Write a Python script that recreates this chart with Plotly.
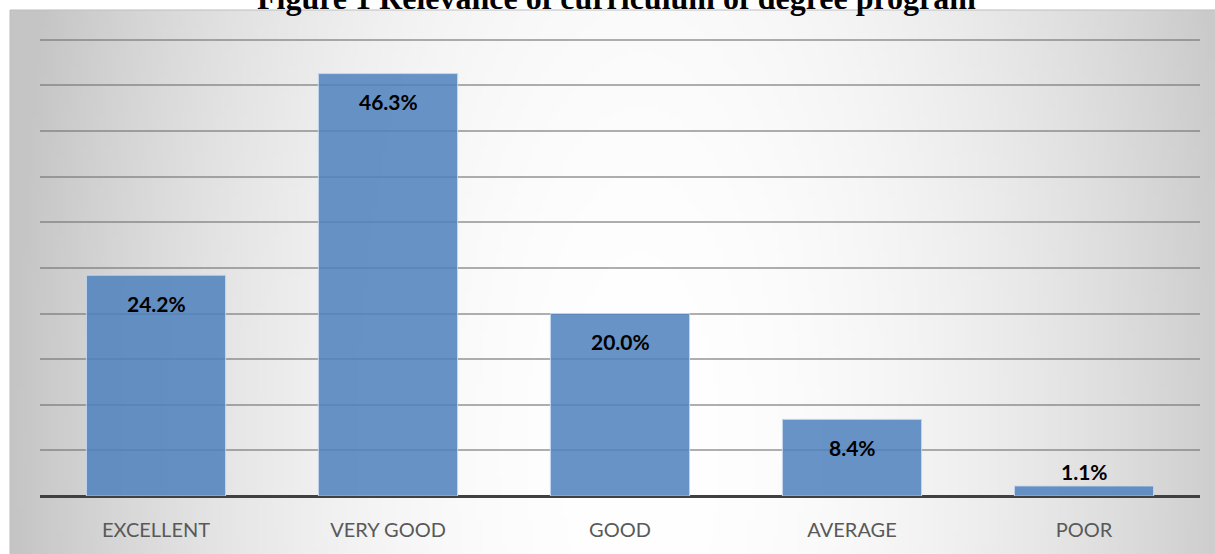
import base64
import struct
import zlib

import numpy as np
import plotly.graph_objects as go

# ---- data ----
categories = ["EXCELLENT", "VERY GOOD", "GOOD", "AVERAGE", "POOR"]
values = [24.2, 46.3, 20.0, 8.4, 1.1]
title_text = "Figure 1 Relevance of curriculum of degree program"

W, H = 1215, 554
ML, MR, MT, MB = 40, 15, 38, 58
YMAX = 50.2


def png_data_uri(arr):
    h, w = arr.shape
    raw = b"".join(b"\x00" + arr[i].astype(np.uint8).tobytes() for i in range(h))

    def chunk(tag, data):
        c = tag + data
        return struct.pack(">I", len(data)) + c + struct.pack(">I", zlib.crc32(c) & 0xFFFFFFFF)

    png = b"\x89PNG\r\n\x1a\n"
    png += chunk(b"IHDR", struct.pack(">IIBBBBB", w, h, 8, 0, 0, 0, 0))
    png += chunk(b"IDAT", zlib.compress(raw, 9))
    png += chunk(b"IEND", b"")
    return "data:image/png;base64," + base64.b64encode(png).decode()


# radial gray background of the chart area (pixel box)
bx0, by0, bx1, by1 = 10, 10, W, H
gw, gh = 241, 109
xs = np.linspace(bx0, bx1, gw)
ys = np.linspace(by0, by1, gh)
X, Y = np.meshgrid(xs, ys)
r2 = ((X - 640) / 620) ** 2 + ((Y - 450) / 1500) ** 2
grad = np.clip(255 - 56 * r2, 197, 255)
bg_uri = png_data_uri(grad)

pw = W - ML - MR
ph = H - MT - MB


def px_to_paper_x(px):
    return (px - ML) / pw


def px_to_paper_y(py):
    return (H - MB - py) / ph


fig = go.Figure()
fig.add_trace(
    go.Bar(
        x=categories,
        y=values,
        marker=dict(color="rgba(79,129,189,0.86)", line=dict(color="rgba(200,220,242,0.9)", width=1)),
        width=0.6,
        hoverinfo="skip",
    )
)

# data labels: inside end, except tiny bar (outside)
for c, v in zip(categories, values):
    inside = v > 5
    fig.add_annotation(
        x=c, y=v, xref="x", yref="y",
        text=f"<b>{v:.1f}%</b>",
        showarrow=False,
        yanchor="middle",
        yshift=-28 if inside else 14,
        font=dict(family="Lato", size=21, color="#000000"),
    )

# title (clipped at the top of the page)
fig.add_annotation(
    x=px_to_paper_x(616), y=1, xref="paper", yref="paper",
    xanchor="center", yanchor="bottom", yshift=MT - 18,
    text="<b>" + title_text + "</b>",
    showarrow=False,
    font=dict(family="Liberation Serif", size=32, color="#000000"),
)

fig.add_layout_image(
    dict(
        source=bg_uri,
        xref="paper", yref="paper",
        x=px_to_paper_x(bx0), y=px_to_paper_y(by0),
        sizex=px_to_paper_x(bx1) - px_to_paper_x(bx0),
        sizey=px_to_paper_y(by0) - px_to_paper_y(by1),
        xanchor="left", yanchor="top",
        sizing="stretch", layer="below",
    )
)

fig.add_shape(
    type="rect", xref="paper", yref="paper",
    x0=px_to_paper_x(bx0), x1=px_to_paper_x(bx1 + 5),
    y0=px_to_paper_y(by1 + 5), y1=px_to_paper_y(by0),
    line=dict(color="#bdbdbd", width=1), fillcolor="rgba(0,0,0,0)", layer="below",
)

fig.update_layout(
    width=W, height=H,
    margin=dict(l=ML, r=MR, t=MT, b=MB, pad=0),
    paper_bgcolor="#ffffff",
    plot_bgcolor="rgba(0,0,0,0)",
    showlegend=False,
    bargap=0.4,
    xaxis=dict(
        showgrid=False, zeroline=False,
        showline=False,
        ticks="", ticklabelstandoff=20,
        tickfont=dict(family="Lato", size=20, color="#595959"),
        fixedrange=True,
    ),
    yaxis=dict(
        range=[0, YMAX], tick0=0, dtick=5,
        showgrid=True, gridcolor="rgba(110,110,110,0.55)", gridwidth=1.5,
        showticklabels=False, ticks="",
        zeroline=True, zerolinecolor="#404040", zerolinewidth=3,
        fixedrange=True,
    ),
)

fig.write_html(
    "out.html",
    config={"displayModeBar": False},
    post_script="document.body.style.margin='0';document.body.style.overflow='hidden';",
)
